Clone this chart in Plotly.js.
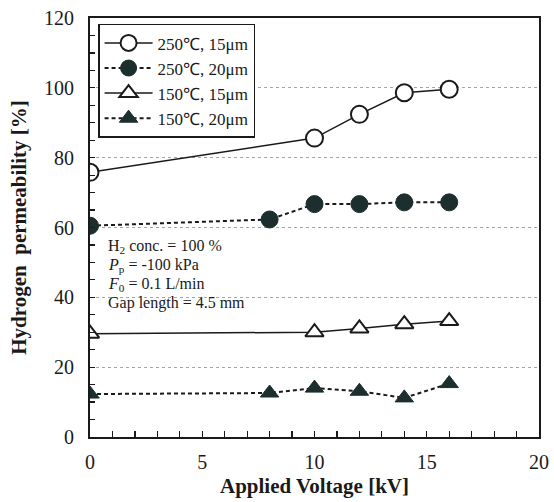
<!DOCTYPE html>
<html>
<head>
<meta charset="utf-8">
<script src="https://cdn.plot.ly/plotly-3.0.1.min.js"></script>
<style>html,body{margin:0;padding:0;background:#fff;}</style>
</head>
<body>
<div id="chart" style="width:554px;height:502px;"></div>
<script>
// Data
const seriesNames = ["250\u2103, 15\u03bcm", "250\u2103, 20\u03bcm", "150\u2103, 15\u03bcm", "150\u2103, 20\u03bcm"];
const xA = [0, 10, 12, 14, 16];
const yA = [75.8, 85.6, 92.4, 98.6, 99.6];
const xB = [0, 8, 10, 12, 14, 16];
const yB = [60.5, 62.3, 66.7, 66.7, 67.2, 67.2];
const xC = [0, 10, 12, 14, 16];
const yC = [29.6, 30.0, 31.1, 32.3, 33.2];
const xD = [0, 8, 10, 12, 14, 16];
const yD = [12.3, 12.6, 14.0, 13.1, 11.2, 15.3];
const xTicks = [0, 5, 10, 15, 20];
const yTicks = [0, 20, 40, 60, 80, 100, 120];
const noteLines = ["H<sub>2</sub> conc. = 100 %", "<i>P</i><sub>p</sub> = -100 kPa", "<i>F</i><sub>0</sub> = 0.1 L/min", "Gap length = 4.5 mm"];

const ink = "#1a1a1a";
const fillInk = "#1d2e2e";
const serif = "Liberation Serif, Times New Roman, serif";

const traces = [
  {x: xA, y: yA, name: seriesNames[0], legendgroup: "a", mode: "lines+markers",
   line: {color: ink, width: 1.5},
   marker: {symbol: "circle", size: 17, color: "#fff", line: {color: ink, width: 2}}},
  {x: xB, y: yB, name: seriesNames[1], legendgroup: "b", mode: "lines+markers",
   line: {color: ink, width: 2, dash: "4px,3px"},
   marker: {symbol: "circle", size: 17, color: fillInk, line: {color: fillInk, width: 1}}},
  {x: xC, y: yC, name: seriesNames[2], legendgroup: "c", mode: "lines+markers",
   line: {color: ink, width: 1.5},
   marker: {symbol: "triangle-up", size: 16, color: "#fff", line: {color: ink, width: 2}}},
  {x: xD, y: yD, name: seriesNames[3], legendgroup: "d", mode: "lines+markers",
   line: {color: ink, width: 2, dash: "4px,3px"},
   marker: {symbol: "triangle-up", size: 16, color: fillInk, line: {color: fillInk, width: 1}}}
];

// note block: one annotation per line, placed by plot fraction
const noteTop = 0.454, noteStep = 0.0445;
const annotations = noteLines.map((t, i) => ({
  x: 0.035, y: noteTop - i * noteStep, xref: "x domain", yref: "y domain",
  xanchor: "left", yanchor: "middle", align: "left", showarrow: false, text: t,
  font: {family: serif, size: 16, color: ink}
}));

const layout = {
  width: 554, height: 502,
  margin: {l: 90, r: 15, t: 18, b: 65},
  paper_bgcolor: "#fff", plot_bgcolor: "#fff",
  font: {family: serif, color: ink, size: 20},
  showlegend: true,
  legend: {x: 0.018, y: 0.986, xanchor: "left", yanchor: "top",
           bgcolor: "#fff", bordercolor: ink, borderwidth: 1.5,
           traceorder: "grouped", tracegroupgap: 0, itemwidth: 48,
           font: {family: serif, size: 17, color: ink}},
  xaxis: {range: [0, 20], tickvals: xTicks, ticks: "inside", ticklen: 6, tickwidth: 1.2,
          tickcolor: ink, showline: true, linecolor: ink, linewidth: 2, mirror: true,
          showgrid: false, zeroline: false, ticklabelstandoff: 6,
          tickfont: {family: serif, size: 20, color: ink},
          minor: {dtick: 1, ticks: "inside", ticklen: 6, tickcolor: ink, showgrid: false},
          title: {text: "<b>Applied Voltage [kV]</b>", font: {family: serif, size: 21, color: ink}, standoff: 6}},
  yaxis: {range: [0, 120], tickvals: yTicks, ticks: "inside", ticklen: 5, tickwidth: 1.2,
          tickcolor: ink, showline: true, linecolor: ink, linewidth: 2, mirror: true,
          showgrid: true, gridcolor: "#a5a5a5", griddash: "dot", gridwidth: 1,
          zeroline: false, ticklabelstandoff: 10,
          tickfont: {family: serif, size: 20, color: ink},
          minor: {dtick: 5, ticks: "inside", ticklen: 5, tickcolor: ink, showgrid: false},
          title: {text: "<b>Hydrogen  permeability [%]</b>", font: {family: serif, size: 21, color: ink}, standoff: 12}},
  annotations: annotations
};

Plotly.newPlot("chart", traces, layout, {displayModeBar: false, staticPlot: true});
</script>
</body>
</html>
